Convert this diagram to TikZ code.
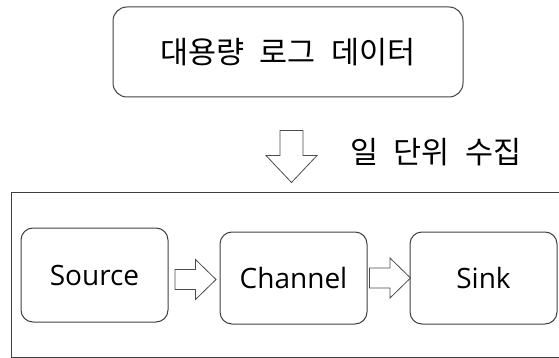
\documentclass[tikz,border=0pt]{standalone}
\usepackage{fontspec}
\setmainfont{Open Sans}
\newfontfamily\cjk[WordSpace=2.2]{Noto Sans CJK KR}
\usetikzlibrary{calc}
\begin{document}
\begin{tikzpicture}[x=1pt,y=-1pt,
  box/.style={draw=black!75, line width=1pt, rounded corners=12pt, inner sep=0pt},
  blk/.style={draw=black!70, line width=0.8pt, fill=white, line join=miter},
  rarrow/.pic={\draw[blk] (-20.5,-10) -- (0,-10) -- (0,-20) -- (20.5,0) -- (0,20) -- (0,10) -- (-20.5,10) -- cycle;},
  darrow/.pic={\draw[blk] (-11.5,0) -- (11.5,0) -- (11.5,25) -- (25.5,25) -- (0,52) -- (-25.5,25) -- (-11.5,25) -- cycle;}
]
\useasboundingbox (0,0) rectangle (559,358);
% top box
\node[box, minimum width=350pt, minimum height=90pt, rounded corners=14pt] (log) at (288,52)
  {\cjk\fontsize{30.5}{34}\selectfont 대용량 로그 데이터};
% outer frame (right side cut off)
\coordinate (frTL) at (11,192);
\coordinate (frBL) at (11,357);
\coordinate (frTR) at (560,192);
\coordinate (frBR) at (560,357);
\draw[black!75, line width=1pt] (frTR) -- (frTL) -- (frBL) -- (frBR);
% pipeline boxes
\node[box, minimum width=147pt, minimum height=94pt] (src) at (94.5,275) {\fontsize{28}{32}\selectfont Source};
\node[box, minimum width=147pt, minimum height=92pt] (chn) at (293.5,278) {\fontsize{28}{32}\selectfont Channel};
\node[box, minimum width=147pt, minimum height=92pt] (snk) at (483.5,278) {\fontsize{28}{32}\selectfont Sink};
% block arrows
\pic at ($(src.east)!0.5!(chn.west)+(1.5,3)$) {rarrow};
\pic at ($(chn.east)!0.5!(snk.west)+(1.5,0)$) {rarrow};
\pic at ($(log.south)+(3.5,33)$) {darrow};
\node[inner sep=0pt] (lbl) at (436,152) {\cjk\fontsize{30.5}{34}\selectfont 일 단위 수집};
\end{tikzpicture}
\end{document}
